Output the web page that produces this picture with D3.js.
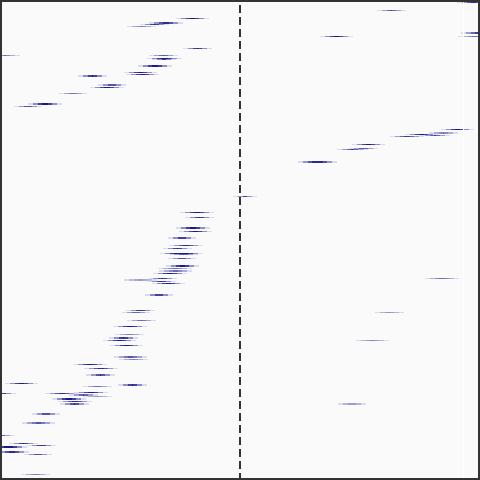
<!DOCTYPE html>
<html><head><meta charset="utf-8">
<script src="https://cdn.jsdelivr.net/npm/d3@7"></script>
<style>html,body{margin:0;padding:0;background:#fff}svg{display:block}</style>
</head><body>
<script>
// Segment data (row position, start, end, weight, strength)
const rowY = [18.5,23,24.3,26.3,48.3,55.3,55.3,58.3,59.3,65.7,
  72,74.3,75.7,84.7,87.3,93.3,103.7,106.3,2,10.3,
  33,36.3,36.3,196.3,212.3,217.3,228,231.3,238,129.3,
  132.7,134.3,135.3,136.3,144.3,148.3,149.3,162.3,245.3,248.3,
  253.3,254.3,258.3,265.7,268.3,270.7,273.3,278.3,279.7,281.3,
  283.3,294.7,310.3,312.3,320.3,326.3,334.3,338,340.3,345.3,
  357,359,278.3,312.3,340.3,364.3,368.3,375.3,383.3,384.7,
  386.3,393.3,393.3,392.3,394.7,396.3,398.7,401.3,403.7,413.7,
  422.7,435.3,443.3,445.3,446.7,451.7,454.3,474.3,403.7];
const startX = [176,149,140,127,183,-10,149,147,152,138,
  124,126,78,98,90,59,28,14,457,377,
  461,458,320,233,180,185,176,179,168,441,
  429,405,420,390,352,349,337,298,169,163,
  160,169,168,166,158,159,153,148,124,147,
  152,145,126,122,127,113,115,109,103,110,
  114,119,425,375,356,73,84,86,5,118,
  83,-14,45,74,69,83,52,58,60,32,
  22,-14,9,27,-10,-5,24,21,338];
const endX = [209,183,169,156,212,20,178,182,176,172,
  157,159,107,126,124,87,62,42,490,406,
  495,495,353,257,214,214,210,212,196,474,
  458,438,450,424,385,378,368,337,203,192,
  203,198,196,199,192,192,187,177,157,176,
  185,173,155,150,156,147,144,138,136,143,
  147,148,459,404,389,107,118,115,38,147,
  112,16,79,108,98,112,86,92,89,60,
  55,15,38,56,27,29,52,50,366];
const weight = [1,2,1,1,1,1,1,1,1,2,
  1,1,2,2,1,1,2,1,2,1,
  2,1,1,1,1,1,2,1,2,1,
  2,1,1,1,1,1,1,2,1,1,
  1,1,1,2,1,2,1,1,2,1,
  1,2,1,1,1,1,1,2,1,1,
  2,1,1,1,1,1,1,2,1,2,
  1,1,1,1,2,1,2,1,2,2,
  2,1,1,1,2,2,1,1,2];
const strength = [1,0.9,1,0.6,1,0.6,0.8,1,1,1,
  1,1,1,0.9,1,0.7,1,0.9,0.9,0.8,
  0.8,0.6,1,1,1,1,1,1,1,1,
  0.6,1,0.8,0.8,1,0.8,0.8,0.9,0.9,1,
  1,0.8,0.9,1,0.6,0.6,1,1,0.4,1,
  1,1,1,0.8,0.7,1,0.6,1,1,1,
  0.7,0.6,0.6,0.5,0.5,1,0.9,0.9,1,1,
  0.7,1,0.9,1,0.8,0.5,1,0.9,0.9,0.9,
  0.7,0.8,1,1,1,0.9,0.9,0.6,0.5];
const refX = 240;     // dashed reference line
const gridX = [463.5]; // panel grid line

const W = 480, H = 480;
const x = d3.scaleLinear().domain([0, 480]).range([0, W]);
const y = d3.scaleLinear().domain([0, 480]).range([0, H]);
const th = d3.scaleOrdinal().domain([1, 2]).range([1, 2]);

const svg = d3.select("body").append("svg").attr("width", W).attr("height", H);
svg.append("defs").append("clipPath").attr("id", "clip")
  .append("rect").attr("x", 2).attr("y", 2).attr("width", W - 4).attr("height", H - 4);

svg.append("rect").attr("width", W).attr("height", H).attr("fill", "#fafafa");

const data = rowY.map((v, i) => ({y: v, x0: startX[i], x1: endX[i], w: weight[i], k: strength[i]}));
const g = svg.append("g").attr("clip-path", "url(#clip)").attr("shape-rendering", "crispEdges");

const layers = [
  {inset: 0,  op: d => 0.12},
  {inset: 5,  op: d => 0.35 * d.k},
  {inset: 10, op: d => 0.55 * d.k * d.k},
  {inset: 14, op: d => 0.6 * d.k * d.k}
];
layers.forEach(L => {
  g.selectAll(null).data(data.filter(d => (d.x1 - d.x0) > 2 * L.inset)).join("rect")
    .attr("x", d => x(d.x0 + L.inset))
    .attr("width", d => x(d.x1 - L.inset) - x(d.x0 + L.inset))
    .attr("y", d => Math.round(y(d.y) - th(d.w) / 2))
    .attr("height", d => th(d.w))
    .attr("fill", "#000080")
    .attr("fill-opacity", L.op);
});

g.selectAll(null).data(gridX).join("line")
  .attr("x1", d => x(d)).attr("x2", d => x(d)).attr("y1", 0).attr("y2", H)
  .attr("stroke", "#fff").attr("stroke-width", 1);

svg.append("line").attr("x1", x(refX)).attr("x2", x(refX))
  .attr("y1", H + 1).attr("y2", -1)
  .attr("stroke", "#333").attr("stroke-width", 2).attr("stroke-dasharray", "8,4");

svg.append("rect").attr("x", 1).attr("y", 1).attr("width", W - 2).attr("height", H - 2)
  .attr("fill", "none").attr("stroke", "#333").attr("stroke-width", 2);
</script>
</body></html>
